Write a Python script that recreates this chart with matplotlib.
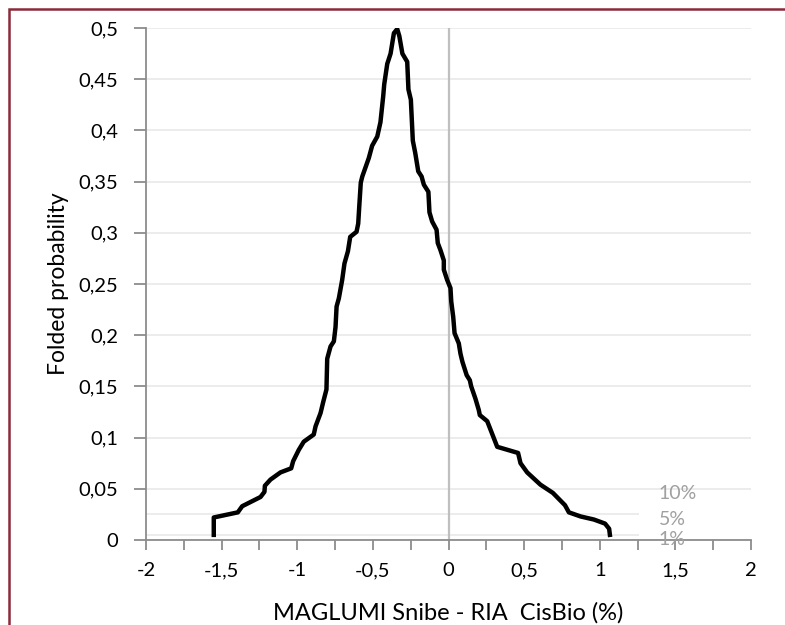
import matplotlib.pyplot as plt
from matplotlib.ticker import FuncFormatter, MultipleLocator
from matplotlib.patches import Rectangle

# folded empirical cumulative distribution (mountain plot) of the differences
diff = [-1.552, -1.552, -1.393, -1.364, -1.243, -1.217, -1.214, -1.177, -1.111, -1.040,
        -1.027, -0.990, -0.957, -0.891, -0.879, -0.846, -0.828, -0.807, -0.802, -0.780,
        -0.758, -0.747, -0.740, -0.725, -0.703, -0.688, -0.665, -0.650, -0.608, -0.597,
        -0.590, -0.580, -0.570, -0.527, -0.505, -0.471, -0.450, -0.432, -0.425, -0.405,
        -0.383, -0.361, -0.339,
        -0.325, -0.305, -0.273, -0.265, -0.249, -0.236, -0.220, -0.200, -0.178, -0.163,
        -0.133, -0.126, -0.108, -0.079, -0.071, -0.053, -0.031, -0.031, -0.009, 0.013,
        0.018, 0.031, 0.040, 0.068, 0.079, 0.092, 0.120, 0.141, 0.150, 0.178, 0.200,
        0.207, 0.256, 0.322, 0.460, 0.476, 0.520, 0.608, 0.690, 0.770, 0.796, 0.873,
        0.961, 1.035, 1.062, 1.067]
prob = [0.005, 0.022, 0.027, 0.033, 0.042, 0.047, 0.053, 0.059, 0.066, 0.070,
        0.077, 0.088, 0.096, 0.103, 0.111, 0.124, 0.135, 0.147, 0.177, 0.189,
        0.194, 0.208, 0.228, 0.236, 0.254, 0.270, 0.282, 0.296, 0.301, 0.309,
        0.326, 0.349, 0.355, 0.373, 0.385, 0.394, 0.408, 0.433, 0.445, 0.465,
        0.475, 0.495, 0.499,
        0.492, 0.475, 0.467, 0.440, 0.430, 0.390, 0.378, 0.360, 0.355, 0.347,
        0.340, 0.320, 0.311, 0.303, 0.290, 0.283, 0.273, 0.264, 0.254, 0.246,
        0.233, 0.218, 0.202, 0.192, 0.182, 0.174, 0.161, 0.156, 0.150, 0.138, 0.127,
        0.122, 0.116, 0.091, 0.085, 0.075, 0.066, 0.054, 0.046, 0.034, 0.027, 0.023,
        0.020, 0.016, 0.011, 0.005]

# significance levels (two sided -> half on each tail)
levels = ['10%', '5%', '1%']
level_prob = [0.05, 0.025, 0.005]

plt.rcParams['font.family'] = ['Lato', 'DejaVu Sans']

fig = plt.figure(figsize=(7.85, 6.25), dpi=100)
ax = fig.add_axes([0.186, 0.136, 0.7707, 0.8192])

# grid and reference lines
ax.set_axisbelow(True)
ax.yaxis.grid(True, color='#ececec', linewidth=1.4)
for p in level_prob[1:]:
    ax.plot([-2, 1.25], [p, p], color='#ececec', linewidth=1.4, zorder=1)
for lab, p in zip(levels, level_prob):
    ax.text(1.39, p - 0.0045, lab, color='#a0a0a0', fontsize=14, va='center', ha='left')
ax.axvline(0, color='#bfbfbf', linewidth=1.6, zorder=2)

# the curve
ax.plot(diff, prob, color='black', linewidth=3.2, solid_joinstyle='round', zorder=3)

# axes look
ax.set_xlim(-2, 2)
ax.set_ylim(0, 0.5)
ax.xaxis.set_major_locator(MultipleLocator(0.5))
ax.xaxis.set_minor_locator(MultipleLocator(0.25))
ax.yaxis.set_major_locator(MultipleLocator(0.05))
comma = FuncFormatter(lambda v, pos: ('%g' % round(v, 3)).replace('.', ','))
ax.xaxis.set_major_formatter(comma)
ax.yaxis.set_major_formatter(comma)
for s in ['top', 'right']:
    ax.spines[s].set_visible(False)
for s in ['left', 'bottom']:
    ax.spines[s].set_color('#8c8c8c')
    ax.spines[s].set_linewidth(1.3)
ax.tick_params(axis='both', which='both', color='#8c8c8c', width=1.3, labelsize=14.5,
               labelcolor='black')
ax.tick_params(axis='x', which='both', length=7, pad=9)
ax.tick_params(axis='y', length=9, pad=11)

ax.set_xlabel('MAGLUMI Snibe - RIA  CisBio (%)', fontsize=17)
ax.set_ylabel('Folded probability', fontsize=16.5)
ax.xaxis.set_label_coords(0.5, -0.122)
ax.yaxis.set_label_coords(-0.128, 0.50)

# dark red frame of the chart area (goes past right and bottom edge)
fig.patches.append(Rectangle((8.5 / 785, -0.1), 1.2, 1 - 8.5 / 625 + 0.1,
                             transform=fig.transFigure, fill=False,
                             edgecolor='#8b2a3a', linewidth=1.8))

fig.savefig('out.png', dpi=100)
